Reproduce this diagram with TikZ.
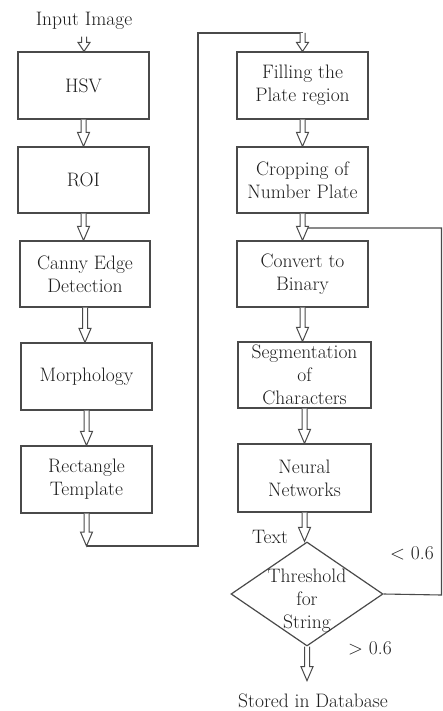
\documentclass[tikz,border=0pt]{standalone}
\usetikzlibrary{shapes.geometric,calc}
\definecolor{ln}{HTML}{4A4A4A}
\definecolor{tx}{HTML}{1E1E1E}
\newcommand\harrow[3][14pt]{%
  \draw[harrowline] let \p1=(#2), \p2=(#3) in
   (\x1-2.5pt,\y1) -- (\x1-2.5pt,\y2+#1) -- (\x1-6pt,\y2+#1) -- (\x1,\y2)
   -- (\x1+6pt,\y2+#1) -- (\x1+2.5pt,\y2+#1) -- (\x1+2.5pt,\y1);}
\begin{document}
\begin{tikzpicture}[x=1pt,y=-1pt,
  font=\fontsize{19.5}{23}\selectfont, text=tx,
  box/.style={draw=ln, line width=1.2pt, minimum width=131pt, minimum height=67pt,
              align=center, inner sep=2pt},
  harrowline/.style={draw=ln, line width=1pt, fill=white, line join=miter},
  wire/.style={draw=ln, line width=1.1pt},
  lbl/.style={inner sep=0pt}]
\useasboundingbox (0,0) rectangle (443,711);
\fill[white] (0,0) rectangle (443,711);

% left column
\node[anchor=base, inner sep=7pt] (input) at (84,25.5) {Input Image};
\node[box] (hsv)   at (83.5,85.5) {HSV};
\node[box, minimum height=66pt] (roi) at (83.5,180) {ROI};
\node[box, minimum width=130pt, minimum height=66pt] (canny) at (85,274) {Canny Edge\\Detection};
\node[box] (morph) at (86.5,376.5) {Morphology};
\node[box] (rect)  at (86.5,479.5) {Rectangle\\Template};

% right column
\node[box] (fill)  at (302.5,85.5) {Filling the\\Plate region};
\node[box, minimum height=66pt] (crop) at (302.5,180) {Cropping of\\Number Plate};
\node[box, minimum height=66pt] (conv) at (302.5,274) {Convert to\\Binary};
\node[box, minimum width=133pt, minimum height=66pt] (seg) at (304.5,375) {Segmentation\\of\\Characters};
\node[box, minimum width=133pt, minimum height=68pt] (nn) at (304.5,478) {Neural\\Networks};
\node[draw=ln, line width=1.2pt, diamond, minimum width=152pt, minimum height=104pt,
      inner sep=0pt] (dia) at (307,594) {};
\node[align=center, inner sep=0pt] (diatext) at (307,601) {Threshold\\for\\String};
\node[anchor=base, inner ysep=12.5pt, inner xsep=2pt] (stored) at (313,707) {Stored in Database};

% labels
\node[lbl] (ltext) at (270,537) {Text};
\node[lbl] (llt) at (412,553) {\textless{} 0.6};
\node[lbl] (lgt) at (370,648) {\textgreater{} 0.6};

% coordinates for wires
\coordinate (c1) at (86.5,546);
\coordinate (bend1) at (198,546);
\coordinate (bend2) at (198,33);
\coordinate (ctop) at (302.5,33);
\coordinate (fb1) at (305,228);
\coordinate (fb2) at (441.5,228);
\coordinate (fb3) at (441.5,595);

% wires
\draw[wire] (c1) -- (bend1) -- (bend2) -- (ctop);
\draw[wire] (fb1) -- (fb2) -- (fb3) -- (dia.east);

% hollow arrows
\harrow[9pt]{input.south}{hsv.north}
\harrow{hsv.south}{roi.north}
\harrow{roi.south}{canny.north}
\harrow{canny.south}{morph.north}
\harrow{morph.south}{rect.north}
\harrow{rect.south}{c1}
\harrow[9pt]{ctop}{fill.north}
\harrow{fill.south}{crop.north}
\harrow{crop.south}{conv.north}
\harrow{conv.south}{seg.north}
\harrow{seg.south}{nn.north}
\harrow{nn.south}{dia.north}
\harrow{dia.south}{stored.north}
\end{tikzpicture}
\end{document}
